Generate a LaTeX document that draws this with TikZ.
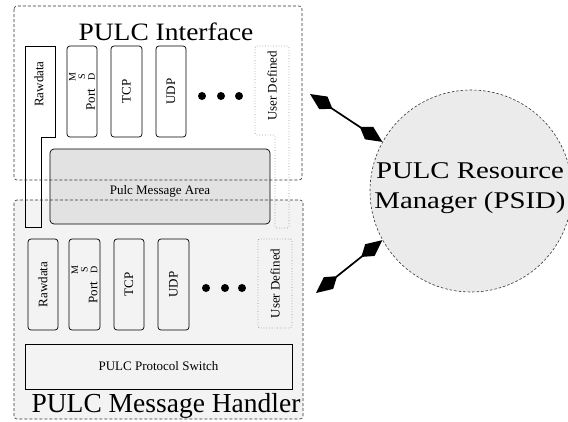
\documentclass[tikz,border=0pt]{standalone}
\usepackage{fontspec}
\setmainfont{Liberation Serif}
\usetikzlibrary{arrows.meta}
\definecolor{areagray}{HTML}{E2E2E2}
\definecolor{circgray}{HTML}{EBEBEB}
\definecolor{handgray}{HTML}{F3F3F3}
\definecolor{dotgray}{HTML}{909090}
\newcommand{\msdstack}{{\fontsize{10}{10}\selectfont\shortstack{M\\S\\D}}}
\tikzset{
  outerbox/.style={draw=black!80, dashed, dash pattern=on 3pt off 2pt, rounded corners=3pt, line width=0.6pt},
  protobox/.style={draw, rounded corners=3pt, line width=0.7pt, rotate=90, minimum width=91pt, minimum height=30pt, inner sep=0pt, font=\fontsize{13}{15}\selectfont},
  userbox/.style={draw=dotgray, dotted, line width=0.7pt, rounded corners=2pt},
  bigdot/.style={circle, fill=black, minimum size=8pt, inner sep=0pt},
  rottext/.style={rotate=90, inner sep=0pt, font=\fontsize{13}{15}\selectfont},
  bigtitle/.style={inner sep=0pt, font=\fontsize{24}{28}\selectfont},
  kitetip/.tip={Kite[length=27pt,width=15pt,inset=11pt]},
  kitearrow/.style={line width=1.7pt, kitetip-kitetip},
  plainbox/.style={draw, line width=0.7pt, inner sep=0pt, font=\fontsize{13}{15}\selectfont}
}
\begin{document}
\begin{tikzpicture}[x=1pt,y=-1pt]
\useasboundingbox (0,0) rectangle (568,421);
% handler background
\fill[handgray, rounded corners=3pt] (14,200) rectangle (303,419);
% resource manager circle
\node[circle, fill=circgray, draw=black!80, dashed, dash pattern=on 2.5pt off 2pt, line width=0.6pt, minimum size=202pt, inner sep=0pt] (rm) at (471,191) {};
\node[bigtitle, align=center, font=\fontsize{24}{30}\selectfont] (rmtext) at (470,188) {\scalebox{1.2}[1]{PULC Resource}\\\scalebox{1.2}[1]{Manager (PSID)}};

% top row (interface)
\draw[line width=0.7pt] (25,46) -- (55,46) -- (55,137) -- (41,137) -- (41,227) -- (25,227) -- cycle;
\node[rottext] (rawT) at (39,84) {Rawdata};
\node[protobox] (portT) at (82,91.5) {Port\hspace{7pt}\msdstack};
\node[protobox, minimum height=31pt] (tcpT) at (126.5,91.5) {TCP};
\node[protobox] (udpT) at (171,91.5) {UDP};
\node[bigdot] (d1T) at (202,96) {};
\node[bigdot] (d2T) at (221,96) {};
\node[bigdot] (d3T) at (239,96) {};
\draw[userbox] (255,46) -- (289,46) -- (289,228) -- (275,228) -- (275,135) -- (255,135) -- cycle;
\node[rottext] (userT) at (272,86) {User Defined};

% message area
\node[draw, fill=areagray, rounded corners=4pt, line width=0.7pt, minimum width=220pt, minimum height=75pt, inner sep=0pt] (area) at (160,186.5) {};
\node[inner sep=0pt, font=\fontsize{13}{15}\selectfont] (areaText) at (160,191) {Pulc Message Area};

% bottom row (handler)
\node[protobox] (rawB) at (43,284.5) {Rawdata};
\node[protobox, minimum height=31pt] (portB) at (84.5,284.5) {Port\hspace{7pt}\msdstack};
\node[protobox] (tcpB) at (129,284.5) {TCP};
\node[protobox, minimum height=31pt] (udpB) at (173.5,284.5) {UDP};
\node[bigdot] (d1B) at (206,288) {};
\node[bigdot] (d2B) at (225,288) {};
\node[bigdot] (d3B) at (242,288) {};
\node[protobox, userbox, draw=dotgray, minimum width=89pt, minimum height=34pt] (userB) at (275,283.5) {User Defined};

% protocol switch
\node[plainbox, minimum width=267pt, minimum height=45pt] (switch) at (158.5,366.5) {PULC Protocol Switch};

% outer dashed boxes
\draw[outerbox] (14,6) rectangle (302,180);
\draw[outerbox] (14,200) rectangle (303,419);
\node[bigtitle, font=\fontsize{25}{28}\selectfont] (ifTitle) at (166,32) {\scalebox{1.1}[1]{PULC Interface}};
\node[bigtitle, font=\fontsize{27.5}{30}\selectfont] (hTitle) at (166,406) {PULC Message Handler};

% arrows
\coordinate (ifEnd) at (310,94);
\coordinate (hEnd) at (316,293);
\draw[kitearrow] (ifEnd) -- (rm.151);
\draw[kitearrow] (hEnd) -- (rm.209);
\end{tikzpicture}
\end{document}
